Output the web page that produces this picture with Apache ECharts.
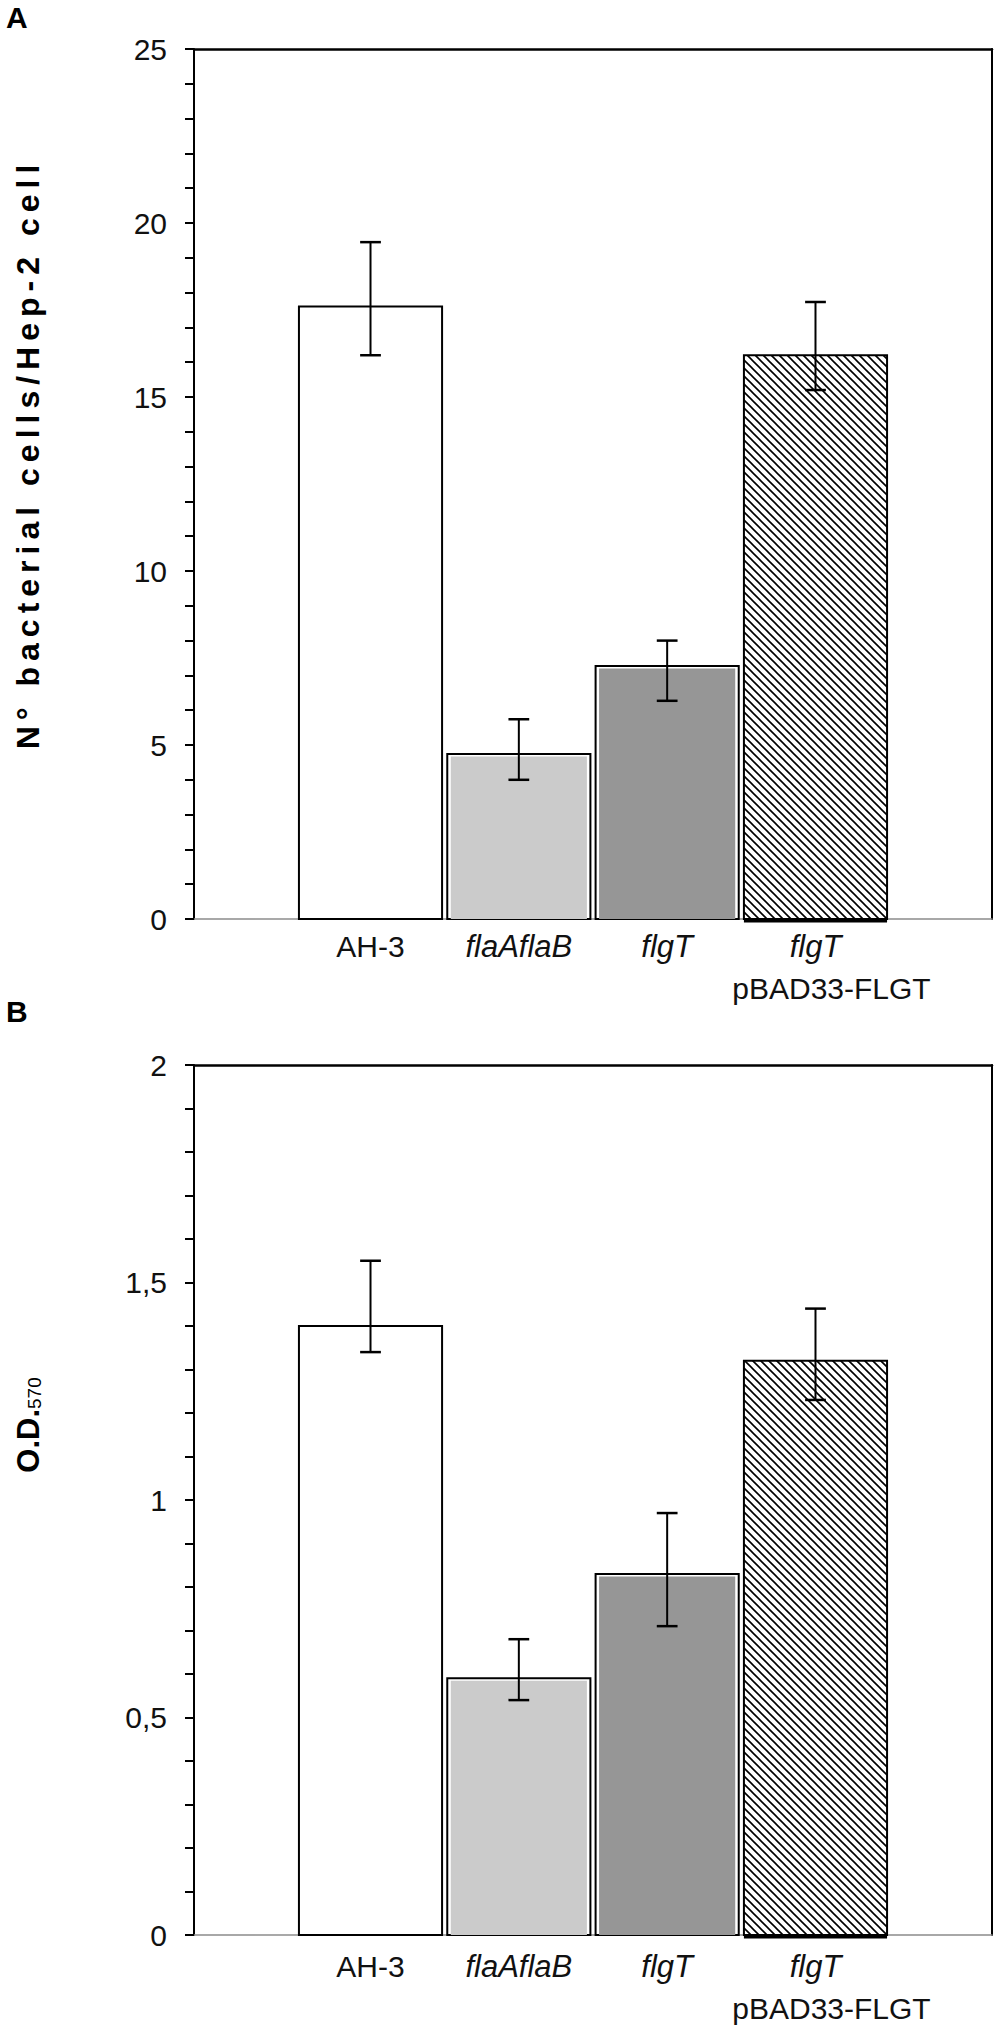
<!DOCTYPE html>
<html>
<head>
<meta charset="utf-8">
<script src="https://cdn.jsdelivr.net/npm/echarts@6/dist/echarts.min.js"></script>
<style>
html,body{margin:0;padding:0;background:#fff;}
#c{width:1000px;height:2038px;}
</style>
</head>
<body>
<div id="c"></div>
<script>
// ---- data ----
const categories = ['AH-3', 'flaAflaB', 'flgT', 'flgT\npBAD33-FLGT'];
const valuesA = [17.6, 4.74, 7.27, 16.2];
const lowA    = [16.2, 4.0, 6.27, 15.2];
const highA   = [19.45, 5.74, 8.0, 17.73];
const valuesB = [1.40, 0.59, 0.83, 1.32];
const lowB    = [1.34, 0.54, 0.71, 1.23];
const highB   = [1.55, 0.68, 0.97, 1.44];
const titleA = 'N° bacterial cells/Hep-2 cell';

// ---- styles ----
const FONT = 'Liberation Sans, Arial, sans-serif';
const barFills = ['#ffffff', '#cbcbcb', '#969696', 'hatch'];
const doubleBorder = [false, true, true, false];

const P = 8;
const hc = document.createElement('canvas');
hc.width = P; hc.height = P;
const g = hc.getContext('2d');
g.fillStyle = '#fff'; g.fillRect(0, 0, P, P);
g.strokeStyle = '#000'; g.lineWidth = 1.6;
g.beginPath();
g.moveTo(-1, -1); g.lineTo(P + 1, P + 1);
g.moveTo(-1, P - 1); g.lineTo(1, P + 1);
g.moveTo(P - 1, -1); g.lineTo(P + 1, 1);
g.stroke();
const hatch = { image: hc, repeat: 'repeat', imageWidth: P, imageHeight: P };

function renderBar(params, api) {
  const i = params.dataIndex;
  const x = api.value(0), v = api.value(1);
  const top = api.coord([x, v]);
  const base = api.coord([x, 0]);
  const w = api.size([1, 0])[0] * 0.965;
  const x0 = top[0] - w / 2;
  const h = base[1] - top[1];
  const fill = barFills[i];
  const children = [];
  if (doubleBorder[i]) {
    children.push({ type: 'rect', shape: { x: x0, y: top[1], width: w, height: h },
      style: { fill: '#fff', stroke: '#000', lineWidth: 2 } });
    children.push({ type: 'rect', shape: { x: x0 + 3.5, y: top[1] + 2.5, width: w - 7, height: h - 2.5 },
      style: { fill: fill } });
  } else {
    children.push({ type: 'rect', shape: { x: x0, y: top[1], width: w, height: h },
      style: { fill: fill === 'hatch' ? hatch : fill, stroke: '#000', lineWidth: 2 } });
    if (fill === 'hatch') {
      children.push({ type: 'line', shape: { x1: x0, y1: base[1] + 1.5, x2: x0 + w, y2: base[1] + 1.5 },
        style: { stroke: '#000', lineWidth: 4 } });
    }
  }
  return { type: 'group', children: children };
}

function renderErr(params, api) {
  const x = api.value(0);
  const lo = api.coord([x, api.value(1)]);
  const hi = api.coord([x, api.value(2)]);
  const cw = api.size([0.07, 0])[0];
  const st = { stroke: '#000', lineWidth: 2 };
  return { type: 'group', children: [
    { type: 'line', shape: { x1: hi[0], y1: hi[1], x2: lo[0], y2: lo[1] }, style: st },
    { type: 'line', shape: { x1: hi[0] - cw, y1: hi[1], x2: hi[0] + cw, y2: hi[1] }, style: { stroke: '#000', lineWidth: 2.5 } },
    { type: 'line', shape: { x1: lo[0] - cw, y1: lo[1], x2: lo[0] + cw, y2: lo[1] }, style: { stroke: '#000', lineWidth: 2.5 } }
  ]};
}

function fmtCat(v) {
  const name = categories[Math.round(v)];
  if (name === undefined) return '';
  const parts = name.split('\n');
  if (parts.length === 1) return (name === 'AH-3' ? '{n|' : '{i|') + name + '}';
  return '{i|' + parts[0] + '}\n{p|' + parts[1] + '}';
}

const catRich = {
  n: { fontSize: 30, lineHeight: 42, color: '#111', fontFamily: FONT },
  i: { fontSize: 31, lineHeight: 42, color: '#111', fontStyle: 'italic', fontFamily: FONT },
  p: { fontSize: 30, lineHeight: 42, color: '#111', fontFamily: FONT, padding: [0, 0, 0, 32] }
};

function xAxes(gi, margin) {
  return [
    { type: 'value', gridIndex: gi, min: -1.19, max: 4.19, position: 'bottom',
      axisLine: { show: true, onZero: false, lineStyle: { color: '#8c8c8c', width: 1.5 } },
      axisTick: { show: false }, splitLine: { show: false },
      axisLabel: { customValues: [0, 1, 2, 3], margin: margin, formatter: fmtCat, rich: catRich, hideOverlap: false } },
    { type: 'value', gridIndex: gi, min: -1.19, max: 4.19, position: 'top',
      axisLine: { show: true, onZero: false, lineStyle: { color: '#000', width: 2.5 } },
      axisTick: { show: false }, axisLabel: { show: false }, splitLine: { show: false } }
  ];
}

function yAxes(gi, max, interval, name, nameStyle, fmt) {
  return [
    { type: 'value', gridIndex: gi, min: 0, max: max, interval: interval, position: 'left',
      axisLine: { show: true, onZero: false, lineStyle: { color: '#000', width: 2 } },
      axisTick: { show: true, inside: false, length: 9, lineStyle: { color: '#000', width: 2 } },
      minorTick: { show: true, splitNumber: 5, length: 9, lineStyle: { color: '#000', width: 2 } },
      splitLine: { show: false }, minorSplitLine: { show: false },
      axisLabel: { fontSize: 30, color: '#111', margin: 27, fontFamily: FONT, formatter: fmt },
      name: name, nameLocation: 'middle', nameRotate: 90, nameGap: 150, nameTextStyle: nameStyle },
    { type: 'value', gridIndex: gi, min: 0, max: max, position: 'right',
      axisLine: { show: true, onZero: false, lineStyle: { color: '#000', width: 2 } },
      axisTick: { show: false }, axisLabel: { show: false }, splitLine: { show: false } }
  ];
}

const chart = echarts.init(document.getElementById('c'), null, { renderer: 'svg' });
chart.setOption({
  animation: false,
  backgroundColor: '#fff',
  textStyle: { fontFamily: FONT },
  title: [
    { text: 'A', left: 6, top: 2, padding: 0, textStyle: { fontSize: 30, fontWeight: 'bold', color: '#000', fontFamily: FONT } },
    { text: 'B', left: 6, top: 996, padding: 0, textStyle: { fontSize: 30, fontWeight: 'bold', color: '#000', fontFamily: FONT } }
  ],
  grid: [
    { left: 194, right: 8, top: 49, height: 870 },
    { left: 194, right: 8, top: 1065, height: 870 }
  ],
  xAxis: xAxes(0, 6).concat(xAxes(1, 10)),
  yAxis: yAxes(0, 25, 5, titleA,
      { fontSize: 32, fontWeight: 'bold', color: '#000', fontFamily: FONT, padding: [0, 0, 0, 60] },
      v => String(v))
    .concat(yAxes(1, 2, 0.5, '{b|O.D.}{s|570}',
      { color: '#000', fontFamily: FONT, padding: [0, 0, 0, 150],
        rich: { b: { fontSize: 31, fontWeight: 'bold', color: '#000', fontFamily: FONT },
                s: { fontSize: 19, color: '#000', fontFamily: FONT, verticalAlign: 'bottom' } } },
      v => String(v).replace('.', ','))),
  series: [
    { type: 'custom', xAxisIndex: 0, yAxisIndex: 0, renderItem: renderBar, z: 2,
      encode: { x: 0, y: 1 }, data: categories.map((c, i) => [i, valuesA[i]]) },
    { type: 'custom', xAxisIndex: 0, yAxisIndex: 0, renderItem: renderErr, z: 3,
      encode: { x: 0, y: [1, 2] }, data: categories.map((c, i) => [i, lowA[i], highA[i]]) },
    { type: 'custom', xAxisIndex: 2, yAxisIndex: 2, renderItem: renderBar, z: 2,
      encode: { x: 0, y: 1 }, data: categories.map((c, i) => [i, valuesB[i]]) },
    { type: 'custom', xAxisIndex: 2, yAxisIndex: 2, renderItem: renderErr, z: 3,
      encode: { x: 0, y: [1, 2] }, data: categories.map((c, i) => [i, lowB[i], highB[i]]) }
  ]
});

// Widen the letter spacing of the y-axis title, as in the reference
document.querySelectorAll('#c svg text').forEach(t => {
  if (t.textContent.indexOf('bacterial') >= 0) t.setAttribute('letter-spacing', '6');
});
</script>
</body>
</html>
